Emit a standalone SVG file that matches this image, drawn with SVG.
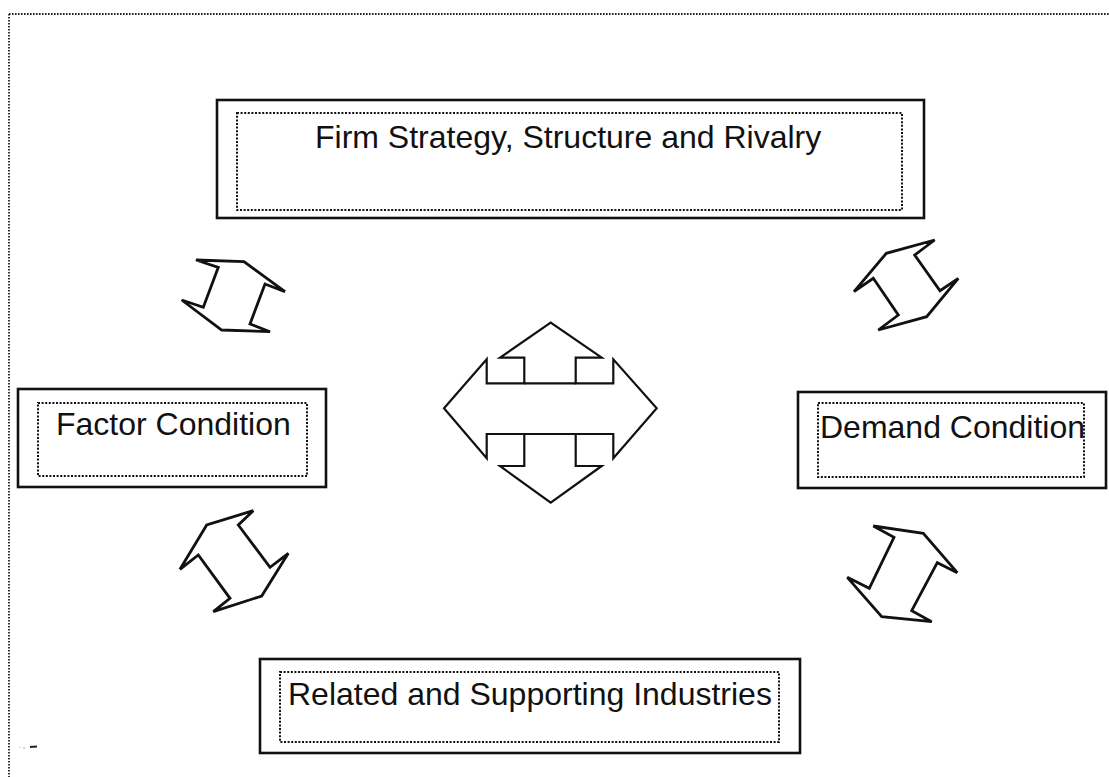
<svg xmlns="http://www.w3.org/2000/svg" width="1109" height="777" viewBox="0 0 1109 777">
  <style>
    .outer { fill: #fff; stroke: #111; stroke-width: 2.6; }
    .inner { fill: none; stroke: #111; stroke-width: 2; stroke-dasharray: 2 1.6; }
    .frame { fill: none; stroke: #222; stroke-width: 1.8; stroke-dasharray: 1.6 1.4; }
    .lbl { font-family: "Liberation Sans", Arial, sans-serif; font-size: 32px; fill: #111; }
    .arr { fill: #fff; stroke: #111; stroke-width: 2.8; stroke-linejoin: miter; }
    .carr { fill: #fff; stroke: #111; stroke-width: 2.2; stroke-linejoin: miter; }
  </style>
  <rect width="1109" height="777" fill="#fff"/>
  <g id="frame">
    <line class="frame" x1="9" y1="14" x2="1109" y2="14"/>
    <line class="frame" x1="9" y1="14" x2="9" y2="777"/>
    <circle cx="20" cy="747" r="0.6" fill="#999"/>
    <circle cx="24" cy="748" r="0.7" fill="#888"/>
    <line x1="30" y1="747" x2="37" y2="746.5" stroke="#222" stroke-width="2"/>
  </g>
  <g id="node-firm">
    <rect class="outer" x="217" y="100" width="707" height="118"/>
    <rect class="inner" x="237" y="113" width="665" height="97"/>
    <text class="lbl" x="315" y="148">Firm Strategy, Structure and Rivalry</text>
  </g>
  <g id="node-factor">
    <rect class="outer" x="18" y="389" width="308" height="98"/>
    <rect class="inner" x="38" y="403" width="269" height="73"/>
    <text class="lbl" x="56" y="435">Factor Condition</text>
  </g>
  <g id="node-demand">
    <rect class="outer" x="798" y="392" width="308" height="96"/>
    <rect class="inner" x="818" y="403" width="266" height="74"/>
    <text class="lbl" x="820" y="438">Demand Condition</text>
  </g>
  <g id="node-related">
    <rect class="outer" x="260" y="659" width="540" height="94"/>
    <rect class="inner" x="280" y="672" width="499" height="70"/>
    <text class="lbl" x="288" y="705">Related and Supporting Industries</text>
  </g>
  <g id="connectors">
    <polygon class="arr" points="196,260 244,261.7 285,291.7 265,284 250,324 270,331.7 221.7,330 181.7,300 203.3,307.3 218.3,267.3"/>
    <polygon class="arr" points="873.3,278.3 898.3,315 878.3,330 926.7,316.7 958.3,278.3 940,290.7 914.7,255 934.7,240 886.3,253.3 854,291.7"/>
    <polygon class="arr" points="253.3,510.7 206.7,525 180,569.3 198.3,555 230,598.3 213.3,611.7 261.7,596 288.3,553.3 270,567.3 238.3,525"/>
    <polygon class="arr" points="873.3,526 923.3,533.3 957.3,572.7 937.3,562.7 911.7,610.7 931.7,621.7 881.7,616.7 847.3,577.3 869.3,588.3 894,537.3"/>
    <g id="center-arrow">
      <path class="carr" d="M486.7,359.3 L444,408.3 L486.7,458.3 L486.7,434 L524.3,434 L524.3,466 L500,466 L550.7,502.7 L601.7,466 L575.7,466 L575.7,434 L613.3,434 L613.3,458.3 L656.7,408.3 L613.3,359.3 L613.3,383.3 L575.7,383.3 L575.7,357.7 L601.7,357.7 L550.7,322.7 L500,357.7 L524.3,357.7 L524.3,383.3 L486.7,383.3 Z"/>
      <line x1="524.3" y1="383.3" x2="575.7" y2="383.3" stroke="#111" stroke-width="2.2"/>
      <line x1="524.3" y1="434" x2="575.7" y2="434" stroke="#111" stroke-width="2.2"/>
    </g>
  </g>
</svg>
